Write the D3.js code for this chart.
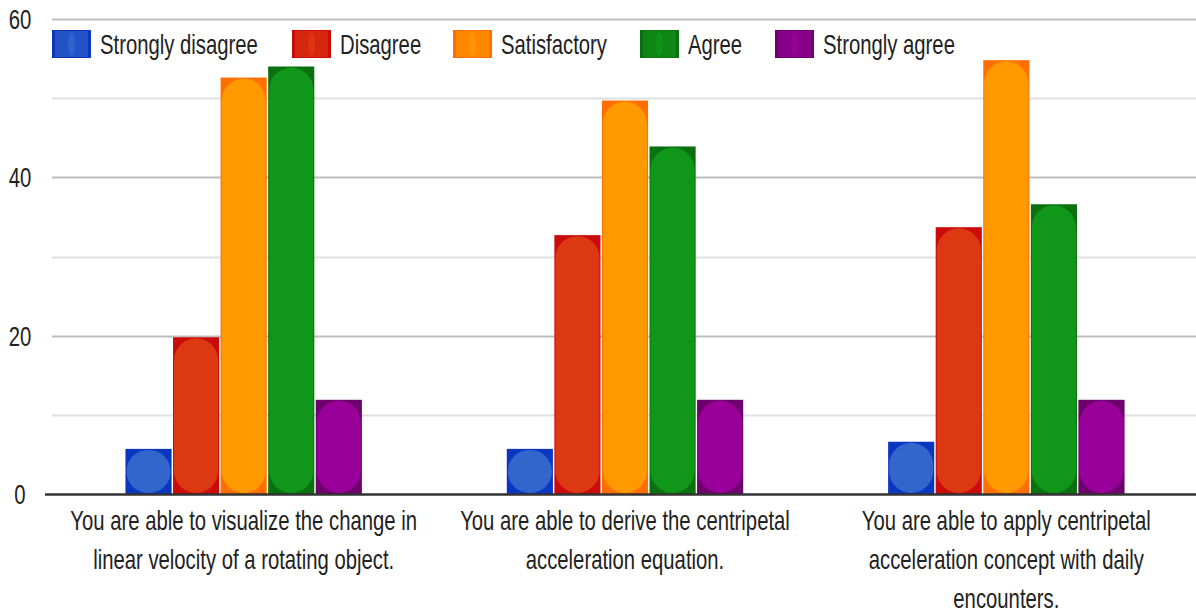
<!DOCTYPE html>
<html><head><meta charset="utf-8">
<script src="https://cdn.jsdelivr.net/npm/d3@7"></script>
<style>body{margin:0;background:#fff}svg{display:block}text{font-family:"Liberation Sans",Arial,sans-serif;fill:#222}</style>
</head><body><svg id="c" width="1196" height="614"></svg>
<script>
const categories = [
  ["You are able to visualize the change in", "linear velocity of a rotating object."],
  ["You are able to derive the centripetal", "acceleration equation."],
  ["You are able to apply centripetal", "acceleration concept with daily", "encounters."]
];
const seriesNames = ["Strongly disagree", "Disagree", "Satisfactory", "Agree", "Strongly agree"];
const stronglyDisagree = [5.7, 5.7, 6.6];
const disagree = [19.8, 32.7, 33.7];
const satisfactory = [52.6, 49.7, 54.8];
const agree = [54, 43.9, 36.6];
const stronglyAgree = [11.9, 11.9, 11.9];
const yTicks = [0, 20, 40, 60];
const gridTicks = [10, 20, 30, 40, 50, 60];

const series = [stronglyDisagree, disagree, satisfactory, agree, stronglyAgree];
const mainColors = ["#3366cc", "#dc3912", "#ff9900", "#109618", "#990099"];
const darkColors = ["#0a36c0", "#cc0a0a", "#ff6f00", "#0a7010", "#6e006e"];

const svg = d3.select("#c");
const left = 52, right = 1196, y0 = 494, y60 = 19;
const SX = 0.725;

const y = d3.scaleLinear().domain([0, 60]).range([y0, y60]);
const catIdx = categories.map((d, i) => i);
const x0 = d3.scaleBand().domain(catIdx).range([left + 1, right + 1]).paddingInner(0.38).paddingOuter(0.19);
const x1 = d3.scaleBand().domain(d3.range(seriesNames.length)).range([0, x0.bandwidth()]).paddingInner(0.03);

// gridlines
svg.append("g").selectAll("line").data(gridTicks).join("line")
  .attr("x1", left).attr("x2", right)
  .attr("y1", d => Math.round(y(d)) + 0.5).attr("y2", d => Math.round(y(d)) + 0.5)
  .attr("stroke", d => d % 20 === 0 ? "#bdbdbd" : "#e0e0e0")
  .attr("stroke-width", 2);

// y labels
svg.append("g").selectAll("text").data(yTicks).join("text")
  .attr("transform", d => `translate(20,${y(d) + 10}) scale(${SX},1)`)
  .attr("text-anchor", "middle").attr("font-size", 28).text(d => d);

// bars
const gBars = svg.append("g");
categories.forEach((c, ci) => {
  series.forEach((s, si) => {
    const bx = x0(ci) + x1(si), bw = x1.bandwidth();
    const by = y(s[ci]), bh = y(0) - y(s[ci]);
    gBars.append("rect").attr("x", bx).attr("y", by).attr("width", bw).attr("height", bh)
      .attr("fill", darkColors[si]);
    const r = Math.min(bw / 2, bh / 2);
    gBars.append("rect").attr("x", bx + 1).attr("y", by + 1).attr("width", bw - 2).attr("height", Math.max(0, bh - 2))
      .attr("rx", r - 1).attr("ry", r - 1).attr("fill", mainColors[si]);
  });
});

// baseline
svg.append("line").attr("x1", 45).attr("x2", right).attr("y1", y0 + 0.5).attr("y2", y0 + 0.5)
  .attr("stroke", "#333").attr("stroke-width", 2.5);

// x labels
const gx = svg.append("g");
categories.forEach((lines, ci) => {
  const cx = x0(ci) + x0.bandwidth() / 2;
  lines.forEach((ln, li) => {
    gx.append("text").attr("transform", `translate(${cx},${530 + li * 39}) scale(${SX},1)`)
      .attr("text-anchor", "middle").attr("font-size", 28).text(ln);
  });
});

// legend
const legendX = [52, 292, 453, 640, 775];
const gl = svg.append("g");
seriesNames.forEach((n, i) => {
  const lx = legendX[i];
  gl.append("rect").attr("x", lx).attr("y", 30).attr("width", 39).attr("height", 28).attr("fill", darkColors[i]);
  gl.append("rect").attr("x", lx + 3).attr("y", 31).attr("width", 33).attr("height", 26).attr("fill", mainColors[i]).attr("opacity", 0.6);
  gl.append("ellipse").attr("cx", lx + 19.5).attr("cy", 44).attr("rx", 3.5).attr("ry", 12).attr("fill", mainColors[i]).attr("opacity", 0.8);
  gl.append("text").attr("transform", `translate(${lx + 48},54) scale(${SX},1)`)
    .attr("font-size", 28).text(n);
});
</script></body></html>
